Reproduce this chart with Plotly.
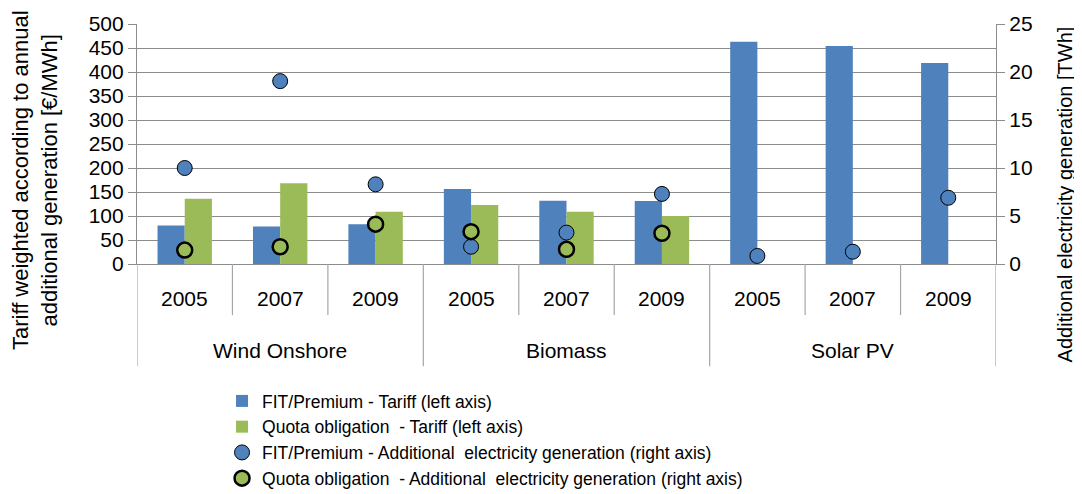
import plotly.graph_objects as go

# data
technologies = ["Wind Onshore", "Biomass", "Solar PV"]
years = ["2005", "2007", "2009"]

fit_tariff = [80, 78, 83, 156, 132, 131, 463, 454, 419]          # €/MWh
quota_tariff = [136, 168, 109, 123, 109, 100, None, None, None]  # €/MWh
fit_generation = [10.0, 19.05, 8.3, 1.8, 3.27, 7.3, 0.84, 1.28, 6.9]        # TWh
quota_generation = [1.45, 1.8, 4.15, 3.37, 1.53, 3.2, None, None, None]   # TWh

BLUE = "#4F81BD"
GREEN = "#9BBB59"
GRID = "#8C8C8C"
FONT = "Liberation Sans, Arial, sans-serif"

x = list(range(len(fit_tariff)))

fig = go.Figure()
fig.add_trace(go.Bar(x=x, y=fit_tariff, name="FIT/Premium - Tariff (left axis)",
                     marker=dict(color=BLUE, line=dict(width=0))))
fig.add_trace(go.Bar(x=x, y=quota_tariff, name="Quota obligation  - Tariff (left axis)",
                     marker=dict(color=GREEN, line=dict(width=0))))
fig.add_trace(go.Scatter(x=x, y=fit_generation, yaxis="y2", mode="markers",
                         name="FIT/Premium - Additional  electricity generation (right axis)",
                         marker=dict(color=BLUE, size=15, line=dict(color="black", width=1))))
fig.add_trace(go.Scatter(x=x, y=quota_generation, yaxis="y2", mode="markers",
                         name="Quota obligation  - Additional  electricity generation (right axis)",
                         marker=dict(color=GREEN, size=15, line=dict(color="black", width=2.5))))

# category dividers below the axis
shapes = []
n = len(x)
for i in range(n + 1):
    pos = i - 0.5
    long_line = (i % len(years) == 0)
    shapes.append(dict(type="line", xref="x", yref="paper", x0=pos, x1=pos,
                       y0=0, y1=-0.426 if long_line else -0.213,
                       line=dict(color="#A6A6A6", width=1.2)))

annotations = []
for i in range(n):
    annotations.append(dict(x=i, y=-0.142, xref="x", yref="paper", text=years[i % len(years)],
                            showarrow=False, yanchor="middle",
                            font=dict(size=21, color="black", family=FONT)))
for j, tech in enumerate(technologies):
    annotations.append(dict(x=j * len(years) + 1, y=-0.359, xref="x", yref="paper", text=tech,
                            showarrow=False, yanchor="middle",
                            font=dict(size=21, color="black", family=FONT)))

# axis titles (placed by hand, they are longer than the plot height)
annotations.append(dict(x=-0.1187, y=0.35, xref="paper", yref="paper", textangle=-90,
                        text="Tariff weighted according to annual<br>additional generation [€/MWh]",
                        showarrow=False, xanchor="center", yanchor="middle",
                        font=dict(size=22, color="black", family=FONT)))
annotations.append(dict(x=1.0797, y=0.292, xref="paper", yref="paper", textangle=-90,
                        text="Additional electricity generation [TWh]",
                        showarrow=False, xanchor="center", yanchor="middle",
                        font=dict(size=20, color="black", family=FONT)))

fig.update_layout(
    width=1074, height=520,
    margin=dict(l=129, r=86, t=16, b=264),
    paper_bgcolor="white", plot_bgcolor="white",
    font=dict(family=FONT, size=21, color="black"),
    barmode="group", bargap=0.43, bargroupgap=0,
    xaxis=dict(range=[-0.5, n - 0.5], showticklabels=False, ticks="", showgrid=False,
               showline=True, linecolor=GRID, linewidth=1.2, zeroline=False,
               automargin=False),
    yaxis=dict(range=[0, 500], dtick=50, showgrid=True, gridcolor=GRID, gridwidth=1,
               showline=True, linecolor=GRID, linewidth=1.2, ticks="outside", ticklen=8,
               tickcolor=GRID, zeroline=False, automargin=False),
    yaxis2=dict(range=[0, 25], dtick=5, overlaying="y", side="right", showgrid=False,
                showline=True, linecolor=GRID, linewidth=1.2, ticks="outside", ticklen=8,
                tickcolor=GRID, zeroline=False, automargin=False),
    legend=dict(x=0.099, y=-0.496, xanchor="left", yanchor="top", orientation="v",
                font=dict(size=17.5), tracegroupgap=0, itemwidth=30, bgcolor="rgba(0,0,0,0)"),
    shapes=shapes,
    annotations=annotations,
)

fig.write_html("out.html")
